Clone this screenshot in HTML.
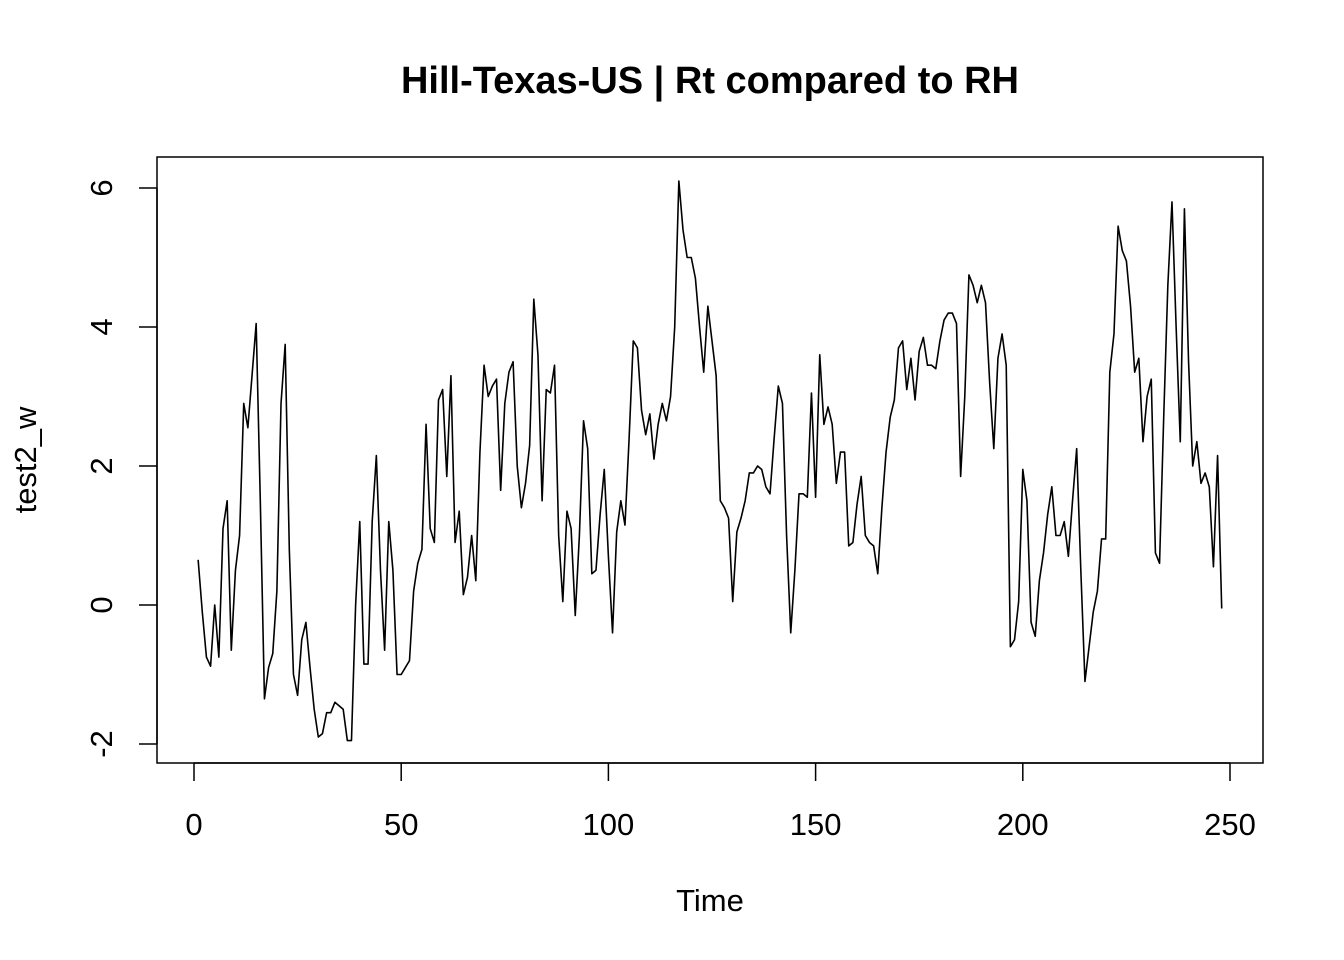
<!DOCTYPE html>
<html><head><meta charset="utf-8"><style>
html,body{margin:0;padding:0;background:#fff;}
svg{display:block;font-family:"Liberation Sans",Arial,sans-serif;}
</style></head><body>
<svg id="chart" width="1344" height="960" viewBox="0 0 1344 960" xmlns="http://www.w3.org/2000/svg">
<rect width="1344" height="960" fill="#fff"/>
<text x="710" y="93" text-anchor="middle" font-size="38" font-weight="bold">Hill-Texas-US | Rt compared to RH</text>
<rect x="157" y="157" width="1106" height="606" fill="none" stroke="#000" stroke-width="1.5"/>
<g id="xaxis"></g>
<g id="yaxis"></g>
<text x="710" y="911" text-anchor="middle" font-size="31">Time</text>
<text x="0" y="0" transform="translate(36,460) rotate(-90)" text-anchor="middle" font-size="31">test2_w</text>
<g id="series"></g>
</svg>
<script>
const values = [0.65,-0.1,-0.75,-0.88,0.0,-0.75,1.1,1.5,-0.65,0.5,1.0,2.9,2.55,3.3,4.05,1.5,-1.35,-0.9,-0.7,0.2,2.9,3.75,0.8,-1.0,-1.3,-0.5,-0.25,-0.9,-1.5,-1.9,-1.85,-1.55,-1.55,-1.4,-1.45,-1.5,-1.95,-1.95,0.0,1.2,-0.85,-0.85,1.2,2.15,0.5,-0.65,1.2,0.5,-1.0,-1.0,-0.9,-0.8,0.2,0.6,0.8,2.6,1.1,0.9,2.95,3.1,1.85,3.3,0.9,1.35,0.15,0.4,1.0,0.35,2.2,3.45,3.0,3.15,3.25,1.65,2.9,3.35,3.5,2.0,1.4,1.75,2.3,4.4,3.6,1.5,3.1,3.05,3.45,1.0,0.05,1.35,1.1,-0.15,1.0,2.65,2.25,0.45,0.5,1.3,1.95,0.7,-0.4,1.05,1.5,1.15,2.4,3.8,3.7,2.8,2.45,2.75,2.1,2.6,2.9,2.65,3.0,4.0,6.1,5.4,5.0,5.0,4.7,4.0,3.35,4.3,3.8,3.3,1.5,1.4,1.25,0.05,1.05,1.25,1.5,1.9,1.9,2.0,1.95,1.7,1.6,2.4,3.15,2.9,1.0,-0.4,0.5,1.6,1.6,1.55,3.05,1.55,3.6,2.6,2.85,2.6,1.75,2.2,2.2,0.85,0.9,1.45,1.85,1.0,0.9,0.85,0.45,1.4,2.2,2.7,2.95,3.7,3.8,3.1,3.55,2.95,3.65,3.85,3.45,3.45,3.4,3.8,4.1,4.2,4.2,4.05,1.85,3.0,4.75,4.6,4.35,4.6,4.35,3.2,2.25,3.55,3.9,3.45,-0.6,-0.5,0.05,1.95,1.5,-0.25,-0.45,0.35,0.75,1.3,1.7,1.0,1.0,1.2,0.7,1.5,2.25,0.5,-1.1,-0.6,-0.1,0.2,0.95,0.95,3.35,3.9,5.45,5.1,4.95,4.3,3.35,3.55,2.35,3.0,3.25,0.75,0.6,2.7,4.6,5.8,4.0,2.35,5.7,3.5,2.0,2.35,1.75,1.9,1.7,0.55,2.15,-0.05];
const xTicks = [0,50,100,150,200,250];
const yTicks = [-2,0,2,4,6];
const NS = "http://www.w3.org/2000/svg";
function xs(t){return 194 + (t/250)*(1230-194);}
function ys(v){return 605 - v*(605-188)/6;}
const xa = document.getElementById('xaxis');
const ya = document.getElementById('yaxis');
function mk(tag, attrs, parent){const e=document.createElementNS(NS,tag);for(const k in attrs)e.setAttribute(k,attrs[k]);parent.appendChild(e);return e;}
mk('line',{x1:xs(xTicks[0]),x2:xs(xTicks[xTicks.length-1]),y1:763,y2:763,stroke:'#000','stroke-width':1.5},xa);
xTicks.forEach(t=>{
  const l=mk('line',{x1:xs(t),x2:xs(t),y1:763,y2:781,stroke:'#000','stroke-width':1.5},xa);
  
  
  const tx=mk('text',{x:xs(t),y:835,'text-anchor':'middle','font-size':31},xa);
  tx.textContent=t;
  
  
});
mk('line',{x1:157,x2:157,y1:ys(yTicks[0]),y2:ys(yTicks[yTicks.length-1]),stroke:'#000','stroke-width':1.5},ya);
yTicks.forEach(v=>{
  const l=mk('line',{x1:139,x2:157,y1:ys(v),y2:ys(v),stroke:'#000','stroke-width':1.5},ya);
  
  
  const tx=mk('text',{x:0,y:0,transform:`translate(112,${ys(v)}) rotate(-90)`,'text-anchor':'middle','font-size':31},ya);
  tx.textContent=v;
  
  
});
const pts = values.map((v,i)=>xs(i+1).toFixed(2)+','+ys(v).toFixed(2)).join(' ');
const pl = mk('polyline',{points:pts,fill:'none',stroke:'#000','stroke-width':1.6,'stroke-linejoin':'round'},document.getElementById('series'));


</script>
</body></html>
